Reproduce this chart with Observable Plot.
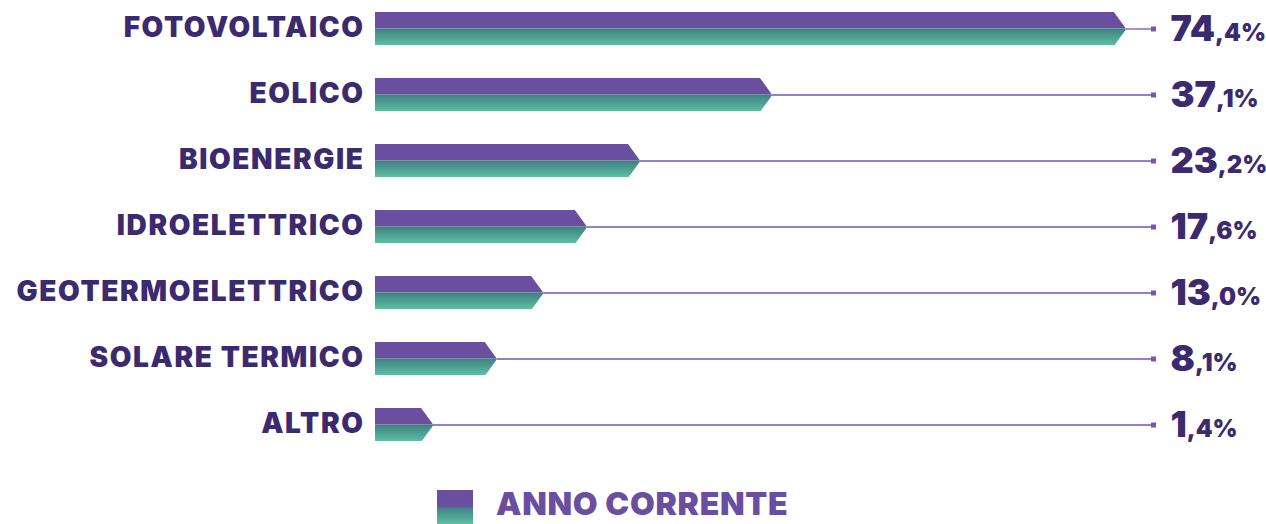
<!DOCTYPE html>
<html>
<head>
<meta charset="utf-8">
<script src="https://cdn.jsdelivr.net/npm/d3@7"></script>
<script src="https://cdn.jsdelivr.net/npm/@observablehq/plot@0.6"></script>
<style>
  html, body { margin: 0; padding: 0; background: #ffffff; }
  #chart svg { display: block; }
  .legend { position: relative; height: 54px; width: 1266px; font-family: Inter, "DejaVu Sans", sans-serif; }
  .legend .sw { position: absolute; left: 437px; top: 20px; width: 36px; height: 34px; }
  .legend .sw .a { height: 17px; background: #6a4fa1; }
  .legend .sw .b { height: 17px; background: linear-gradient(#3f7e82, #5cc0a0); }
  .legend .lab { position: absolute; left: 496px; top: 14px; font-size: 32px; font-weight: 900; color: #6a4fa1; letter-spacing: 0.7px; line-height: 40px; }
</style>
</head>
<body>
<div id="chart"></div>
<div class="legend"><div class="sw"><div class="a"></div><div class="b"></div></div><div class="lab">ANNO CORRENTE</div></div>
<script>
const categories = ["FOTOVOLTAICO", "EOLICO", "BIOENERGIE", "IDROELETTRICO", "GEOTERMOELETTRICO", "SOLARE TERMICO", "ALTRO"];
const values = [74.4, 37.1, 23.2, 17.6, 13.0, 8.1, 1.4];
const valueLabels = ["74,4%", "37,1%", "23,2%", "17,6%", "13,0%", "8,1%", "1,4%"];

const data = categories.map((c, i) => ({cat: c, value: values[i], label: valueLabels[i]}));

const xMin = -4.71, xMax = 77.27;
const purple = "#6a4fa1", dark = "#3b2a6d", lineCol = "#7b52b5";

// white wedge that cuts the bar ends into a chevron point
const cut = {
  draw(ctx) {
    const w = 12, h = 16.5, e = 1.5, ex = e * w / h;
    ctx.moveTo(-w - ex, -h - e); ctx.lineTo(2, -h - e); ctx.lineTo(2, -0.01); ctx.lineTo(0, 0); ctx.closePath();
    ctx.moveTo(-w - ex, h + e); ctx.lineTo(2, h + e); ctx.lineTo(2, 0.01); ctx.lineTo(0, 0); ctx.closePath();
  }
};

const chart = Plot.plot({
  width: 1266,
  height: 470,
  marginLeft: 375,
  marginRight: 113,
  marginTop: 12,
  marginBottom: 29,
  x: {domain: [xMin, xMax], axis: null},
  y: {type: "band", domain: categories, paddingInner: 0.5, paddingOuter: 0, axis: null},
  style: {fontFamily: "Inter, 'DejaVu Sans', sans-serif", background: "#ffffff"},
  marks: [
    Plot.barX(data, {y: "cat", x1: xMin, x2: "value", fill: purple, insetBottom: 16.5}),
    Plot.barX(data, {y: "cat", x1: xMin, x2: "value", fill: "url(#tealGrad)", insetTop: 16.5}),
    Plot.dot(data, {y: "cat", x: "value", symbol: cut, r: 5, fill: "#ffffff", stroke: "none"}),
    Plot.ruleY(data, {y: "cat", x1: "value", x2: xMax, stroke: lineCol, strokeWidth: 1.3}),
    Plot.dot(data, {y: "cat", x: xMax, symbol: "square", r: 2.8, fill: lineCol, stroke: "none"}),
    Plot.text(data, {y: "cat", text: "cat", frameAnchor: "left", textAnchor: "end", dx: -11, dy: -0.5, fontSize: 28, fontWeight: 900, fill: dark}),
    Plot.text(data, {y: "cat", text: "label", frameAnchor: "right", textAnchor: "start", dx: 17, fontSize: 36, fontWeight: 900, fill: dark})
  ]
});

// gradient definition for the lower half of each bar
const svg = d3.select(chart);
const defs = svg.insert("defs", ":first-child");
const g = defs.append("linearGradient").attr("id", "tealGrad").attr("x1", 0).attr("y1", 0).attr("x2", 0).attr("y2", 1);
g.append("stop").attr("offset", "0%").attr("stop-color", "#3f7e82");
g.append("stop").attr("offset", "100%").attr("stop-color", "#5cc0a0");

svg.selectAll("text").each(function() {
  const t = d3.select(this);
  const s = t.text();
  if (categories.includes(s)) {
    t.style("letter-spacing", "1.6px");
  } else if (valueLabels.includes(s)) {
    // large integer part, smaller decimal part
    const k = s.indexOf(",");
    t.text(null);
    t.append("tspan").text(s.slice(0, k));
    t.append("tspan").attr("font-size", 24).text(s.slice(k));
  }
});

document.getElementById("chart").appendChild(chart);
</script>
</body>
</html>
